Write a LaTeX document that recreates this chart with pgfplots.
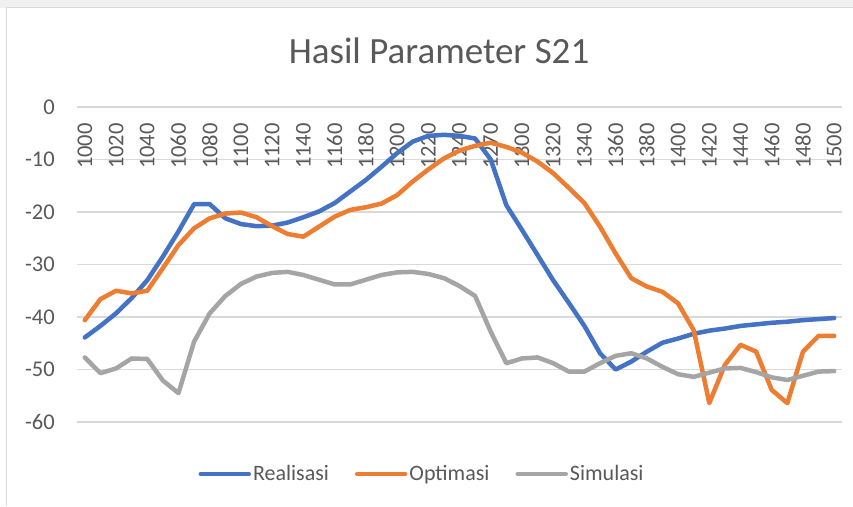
\documentclass[border=0pt]{standalone}
\usepackage{fontspec}
\setmainfont{Carlito}
\usepackage{pgfplots}
\pgfplotsset{compat=1.18}
\usepackage{pgfplotstable}
\definecolor{cblue}{HTML}{4472C4}
\definecolor{corange}{HTML}{ED7D31}
\definecolor{cgray}{HTML}{A5A5A5}
\definecolor{tgray}{HTML}{595959}
\definecolor{gridc}{HTML}{D9D9D9}

\pgfplotstableread{
i real opt sim
0 -43.9 -40.6 -47.7
1 -41.7 -36.6 -50.7
2 -39.3 -35.0 -49.8
3 -36.4 -35.5 -47.9
4 -33.0 -35.0 -48.0
5 -28.5 -30.7 -52.1
6 -23.7 -26.3 -54.5
7 -18.5 -23.1 -44.7
8 -18.5 -21.2 -39.3
9 -21.2 -20.3 -36.0
10 -22.3 -20.1 -33.7
11 -22.7 -21.0 -32.3
12 -22.6 -22.7 -31.6
13 -22.0 -24.2 -31.4
14 -21.0 -24.7 -32.0
15 -19.9 -22.8 -32.9
16 -18.3 -20.9 -33.8
17 -16.1 -19.6 -33.8
18 -13.9 -19.1 -32.9
19 -11.4 -18.4 -32.0
20 -8.8 -16.8 -31.5
21 -6.6 -14.2 -31.4
22 -5.5 -11.9 -31.8
23 -5.3 -9.8 -32.6
24 -5.5 -8.3 -34.1
25 -6.0 -7.4 -36.0
26 -10.0 -6.8 -42.8
27 -18.7 -7.6 -48.8
28 -23.4 -8.7 -47.9
29 -28.2 -10.4 -47.7
30 -33.0 -12.6 -48.8
31 -37.3 -15.4 -50.4
32 -41.7 -18.3 -50.4
33 -46.9 -22.8 -48.8
34 -50.0 -27.9 -47.4
35 -48.5 -32.6 -46.9
36 -46.6 -34.2 -47.9
37 -44.9 -35.2 -49.5
38 -44.1 -37.4 -50.9
39 -43.2 -42.5 -51.4
40 -42.6 -56.4 -50.6
41 -42.2 -49.1 -49.8
42 -41.7 -45.3 -49.7
43 -41.4 -46.6 -50.5
44 -41.1 -53.9 -51.5
45 -40.9 -56.4 -52.0
46 -40.6 -46.6 -51.2
47 -40.4 -43.6 -50.4
48 -40.2 -43.6 -50.3
}\data

\begin{document}
\begin{tikzpicture}[x=1pt,y=1pt]
\useasboundingbox (0,0) rectangle (853,506);
\fill[white] (0,0) rectangle (853,506);
\fill[black!6] (0,498) rectangle (853,506);
\draw[gridc, line width=1pt] (6,0) -- (6,498) -- (853,498);
\node[anchor=base, text=tgray, font=\fontsize{37}{44}\selectfont] at (439,442) {Hasil Parameter S21};
\begin{axis}[
  at={(77pt,84pt)}, anchor=south west,
  width=765pt, height=315pt, scale only axis,
  xmin=-0.5, xmax=48.5, ymin=-60, ymax=0,
  enlargelimits=false,
  axis line style={draw=none},
  major tick length=0pt,
  xtick={0,2,...,48},
  xticklabels={1000,1020,1040,1060,1080,1100,1120,1140,1160,1180,1200,1220,1240,1270,1300,1320,1340,1360,1380,1400,1420,1440,1460,1480,1500},
  xticklabel pos=upper,
  xticklabel style={rotate=90, anchor=east, inner xsep=16pt, inner ysep=0pt},
  ytick={-60,-50,-40,-30,-20,-10,0},
  yticklabels={-60,-50,-40,-30,-20,-10,0},
  yticklabel style={anchor=east, inner xsep=0pt, xshift=-22pt},
  ymajorgrids, grid style={gridc, line width=1.3pt},
  tick label style={font=\fontsize{22.5}{27}\selectfont, text=tgray},
  every axis plot/.append style={line width=4.5pt, line join=round, line cap=round},
  legend style={at={(0.451,-0.165)}, anchor=center, draw=none, fill=none,
    legend columns=-1, font=\fontsize{22}{26}\selectfont, text=tgray,
    /tikz/every even column/.append style={column sep=24pt},
    nodes={inner sep=2pt}},
  legend image code/.code={\draw[#1, line cap=round] (0pt,0pt) -- (48pt,0pt);},
]
\addplot[cblue, no marks] table[x=i, y=real] {\data};
\addlegendentry{Realisasi}
\addplot[corange, no marks] table[x=i, y=opt] {\data};
\addlegendentry{Optimasi}
\addplot[cgray, no marks] table[x=i, y=sim] {\data};
\addlegendentry{Simulasi}
\end{axis}
\end{tikzpicture}
\end{document}
